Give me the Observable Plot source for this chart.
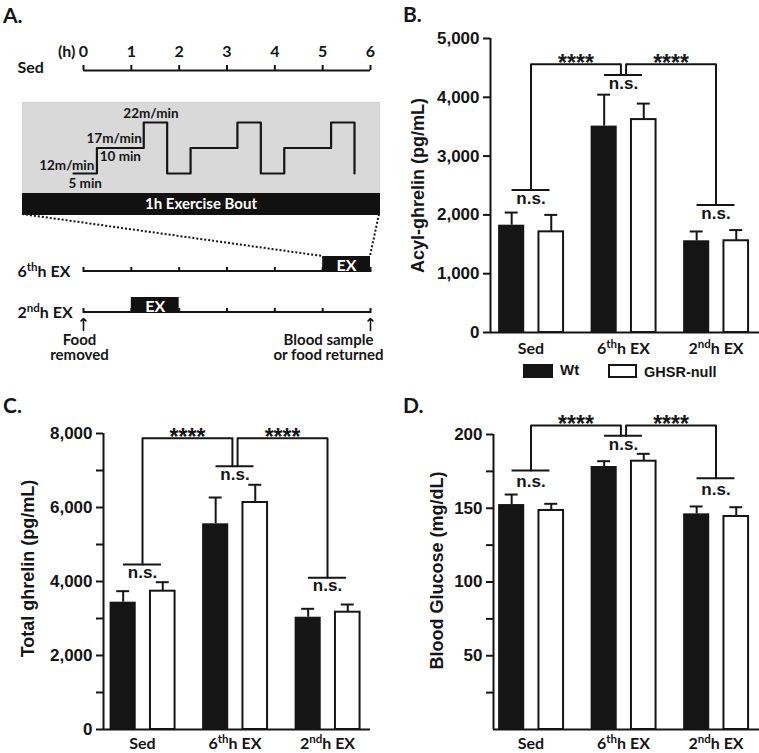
<!DOCTYPE html>
<html>
<head>
<meta charset="utf-8">
<script src="https://cdn.jsdelivr.net/npm/d3@7"></script>
<script src="https://cdn.jsdelivr.net/npm/@observablehq/plot@0.6"></script>
<style>
  html, body { margin: 0; padding: 0; background: #fff; }
  #fig { position: relative; width: 759px; height: 753px; overflow: hidden; background: #fff; color: #151515; }
  #fig svg { position: absolute; overflow: visible; }
  .plab { position: absolute; font-family: Lato, "Open Sans", sans-serif; font-weight: 700; font-size: 21px; line-height: 21px; }
  .leg { position: absolute; font-family: "Liberation Sans", Arial, sans-serif; font-weight: 700; }
</style>
</head>
<body>
<div id="fig"></div>
<script>
// ---------------- data ----------------
const hours = [0, 1, 2, 3, 4, 5, 6];
const boutMinutes = [0, 5, 15, 20, 25, 35, 40, 45, 55, 60];
const boutSpeed = [12, 17, 22, 12, 17, 22, 12, 17, 22, 12];
const speedLabels = ["12m/min", "17m/min", "22m/min"];
const stageLabels = ["5 min", "10 min"];
const protocolRows = ["6thh EX", "2ndh EX"];
const exerciseStart = [5, 1];
const endLabels = ["Food\nremoved", "Blood sample\nor food returned"];

const groups = ["Sed", "6thh EX", "2ndh EX"];
const genotypes = ["Wt", "GHSR-null"];

const acylWt = [1825, 3510, 1560];
const acylWtSem = [215, 535, 158];
const acylNull = [1712, 3621, 1560];
const acylNullSem = [288, 272, 182];
const acylNs = [2424, 4381, 2170];
const acylTop = 4564;
const acylTicks = [0, 1000, 2000, 3000, 4000, 5000];

const totalWt = [3441, 5559, 3035];
const totalWtSem = [297, 711, 227];
const totalNull = [3738, 6135, 3170];
const totalNullSem = [243, 479, 208];
const totalNs = [4459, 7116, 4100];
const totalTop = 7870;
const totalTicks = [0, 2000, 4000, 6000, 8000];
const totalMinor = [1000, 3000, 5000, 7000];

const glucWt = [152.5, 178.3, 146.2];
const glucWtSem = [6.8, 3.6, 5.0];
const glucNull = [148.5, 181.9, 144.4];
const glucNullSem = [4.5, 5.0, 6.3];
const glucNs = [175.6, 199.1, 170.4];
const glucTop = 206.1;
const glucTicks = [50, 100, 150, 200];
const glucMinor = [25, 75, 125, 175];

// ---------------- helpers ----------------
const NS = "http://www.w3.org/2000/svg";
const ink = "#151515";
const fig = document.getElementById("fig");
const lato = {fontFamily: "Lato, 'Open Sans', sans-serif", fontWeight: 700};
const arial = {fontFamily: "'Liberation Sans', Arial, sans-serif", fontWeight: 700};

function fixText(svg) {
  svg.querySelectorAll("text, tspan").forEach(t => {
    if (t.querySelector("tspan")) return;
    const m = t.textContent.match(/^(\d)(th|nd)(h EX)$/);
    if (!m) return;
    t.textContent = "";
    t.appendChild(document.createTextNode(m[1]));
    const sup = document.createElementNS(NS, "tspan");
    sup.setAttribute("baseline-shift", "super");
    sup.setAttribute("font-size", "72%");
    sup.textContent = m[2];
    t.appendChild(sup);
    const rest = document.createElementNS(NS, "tspan");
    rest.textContent = m[3];
    t.appendChild(rest);
  });
}
function place(svg, left, top) {
  svg.style.left = left + "px";
  svg.style.top = top + "px";
  fixText(svg);
  fig.appendChild(svg);
  return svg;
}
function label(text, left, top) {
  const d = document.createElement("div");
  d.className = "plab";
  d.textContent = text;
  d.style.left = left + "px";
  d.style.top = top + "px";
  fig.appendChild(d);
}

// ---------------- Panel A ----------------
// A1: Sed timeline
place(Plot.plot({
  width: 390, height: 90, marginLeft: 83, marginRight: 20, marginTop: 65, marginBottom: 20,
  x: {domain: [hours[0], hours[hours.length - 1]]},
  y: {domain: [0, 1], axis: null},
  style: {background: "transparent", color: ink},
  marks: [
    Plot.axisX(hours, {anchor: "top", tickSize: 0, tickPadding: 9, label: null, fontSize: 16, ...lato}),
    Plot.tickX(hours, {x: d => d, strokeWidth: 2, stroke: ink}),
    Plot.ruleY([0], {x1: hours[0], x2: hours[hours.length - 1], strokeWidth: 2, stroke: ink}),
    Plot.text(["(h)"], {x: hours[0], y: 1, textAnchor: "end", lineAnchor: "bottom", dx: -8, dy: -9, fontSize: 16, ...lato}),
    Plot.text(["Sed"], {frameAnchor: "bottom-left", textAnchor: "start", lineAnchor: "middle", dx: -66, dy: -2.5, fontSize: 16, ...lato})
  ]
}), 0, 0);

// A2: exercise bout detail
const bout = boutMinutes.map((m, i) => ({min: m, speed: boutSpeed[i]}));
const stages = speedLabels.map((s, i) => ({label: s, start: boutMinutes[i], end: boutMinutes[i + 1], speed: boutSpeed[i]}));
place(Plot.plot({
  width: 357, height: 91, margin: 0,
  x: {domain: [boutMinutes[0], boutMinutes[boutMinutes.length - 1]], range: [51, 332], axis: null},
  y: {domain: [d3.min(boutSpeed), d3.max(boutSpeed)], range: [71, 20], axis: null},
  style: {background: "transparent", color: ink},
  marks: [
    Plot.frame({fill: "#d9d9d9", stroke: "#cfcfcf"}),
    Plot.line(bout, {x: "min", y: "speed", curve: "step-after", stroke: ink, strokeWidth: 2.2}),
    Plot.text([stages[0]], {x: "end", y: "speed", text: "label", textAnchor: "end", dx: -2.5, dy: -8, fontSize: 13.5, ...lato}),
    Plot.text([stages[1]], {x: "end", y: "speed", text: "label", textAnchor: "end", dx: -2, dy: -9.5, fontSize: 13.5, ...lato}),
    Plot.text([stages[2]], {x: d => (d.start + d.end) / 2, y: "speed", text: "label", dx: -4.5, dy: -9, fontSize: 13.5, ...lato}),
    Plot.text([stages[0]], {x: d => (d.start + d.end) / 2, y: "speed", text: () => stageLabels[0], dy: 10, fontSize: 13.5, ...lato}),
    Plot.text([stages[1]], {x: d => (d.start + d.end) / 2, y: "speed", text: () => stageLabels[1], dy: 8.5, fontSize: 13.5, ...lato})
  ]
}), 22, 102);

// A2b: black bar
place(Plot.plot({
  width: 357, height: 21, margin: 0,
  style: {background: "transparent"},
  marks: [
    Plot.frame({fill: "#111", stroke: "#111"}),
    Plot.text(["1h Exercise Bout"], {frameAnchor: "middle", fill: "white", fontSize: 15, ...lato})
  ]
}), 22, 193);

// A3: 6th h / 2nd h timelines
const boxLeft = 22, boxRight = 379;
const exercise = protocolRows.map((r, i) => ({row: r, start: exerciseStart[i]}));
const tickCells = protocolRows.flatMap(r => hours.map(h => ({row: r, h})));
function dottedZoom(index, scales) {
  const g = document.createElementNS(NS, "g");
  const yb = scales.y(protocolRows[0]);
  const ends = [[boxLeft, exerciseStart[0]], [boxRight, exerciseStart[0] + 1]];
  for (const [px, h] of ends) {
    const l = document.createElementNS(NS, "line");
    l.setAttribute("x1", px); l.setAttribute("y1", 0);
    l.setAttribute("x2", scales.x(h)); l.setAttribute("y2", yb);
    l.setAttribute("stroke", ink); l.setAttribute("stroke-width", 2);
    l.setAttribute("stroke-dasharray", "2,2");
    g.appendChild(l);
  }
  return g;
}
place(Plot.plot({
  width: 390, height: 150, marginLeft: 83, marginRight: 20, marginTop: 0, marginBottom: 0,
  x: {domain: [hours[0], hours[hours.length - 1]], axis: null},
  y: {type: "band", domain: protocolRows, range: [42, 99], paddingInner: 0.61, paddingOuter: 0, axis: null},
  style: {background: "transparent", color: ink},
  marks: [
    Plot.barX(protocolRows, {x1: hours[0], x2: hours[hours.length - 1], y: d => d, insetTop: 14, fill: ink}),
    Plot.tickX(tickCells, {x: "h", y: "row", insetTop: 11, strokeWidth: 2, stroke: ink}),
    Plot.barX(exercise, {x1: "start", x2: d => d.start + 1, y: "row", fill: "#111"}),
    Plot.text(exercise, {x: d => d.start + 0.5, y: "row", text: () => "EX", fill: "white", fontSize: 16, dy: 1, ...lato}),
    Plot.text(protocolRows, {y: d => d, frameAnchor: "left", textAnchor: "start", dx: -66, dy: 7, fontSize: 16, ...lato}),
    Plot.vector([hours[0], hours[hours.length - 1]], {x: d => d, y: () => protocolRows[1], length: 12, anchor: "start", dy: 25, stroke: ink, strokeWidth: 1.6}),
    Plot.text([endLabels[0]], {x: hours[0], y: () => protocolRows[1], dx: -4, dy: 42, lineHeight: 1, fontSize: 15, ...lato}),
    Plot.text([endLabels[1]], {x: hours[hours.length - 1], y: () => protocolRows[1], dx: -42, dy: 42, lineHeight: 1, fontSize: 15, ...lato}),
    dottedZoom
  ]
}), 0, 214);

// ---------------- Bar panels ----------------
function barPanel(o) {
  const rows = groups.map((g, i) => ({i, wt: o.wt[i], wtSem: o.wtSem[i], nul: o.nul[i], nulSem: o.nulSem[i], ns: o.ns[i]}));
  const x0 = (o.ml - o.c0) / o.step, x1 = (o.width - o.mr - o.c0) / o.step;
  const W = [-0.35, -0.068], N = [0.086, 0.352];
  const wc = (W[0] + W[1]) / 2, nc = (N[0] + N[1]) / 2;
  const cap = 0.07, nsHalf = 0.205, leg = 0.028;
  const left = [{x: 0, y: o.ns[0]}, {x: 0, y: o.top}, {x: 1 - leg, y: o.top}, {x: 1 - leg, y: o.ns[1]}];
  const right = [{x: 1 + leg, y: o.ns[1]}, {x: 1 + leg, y: o.top}, {x: 2, y: o.top}, {x: 2, y: o.ns[2]}];
  const stars = [{x: 0.5 - leg / 2, y: o.top}, {x: 1.5 + leg / 2, y: o.top}];
  const marks = [
    Plot.rectY(rows, {x1: d => d.i + W[0], x2: d => d.i + W[1], y1: 0, y2: "wt", fill: ink}),
    Plot.ruleX(rows, {x: d => d.i + wc, y1: "wt", y2: d => d.wt + d.wtSem, stroke: ink, strokeWidth: 2}),
    Plot.ruleY(rows, {y: d => d.wt + d.wtSem, x1: d => d.i + wc - cap, x2: d => d.i + wc + cap, stroke: ink, strokeWidth: 2}),
    Plot.rectY(rows, {x1: d => d.i + N[0], x2: d => d.i + N[1], y1: 0, y2: "nul", fill: "white", stroke: ink, strokeWidth: 2}),
    Plot.ruleX(rows, {x: d => d.i + nc, y1: "nul", y2: d => d.nul + d.nulSem, stroke: ink, strokeWidth: 2}),
    Plot.ruleY(rows, {y: d => d.nul + d.nulSem, x1: d => d.i + nc - cap, x2: d => d.i + nc + cap, stroke: ink, strokeWidth: 2}),
    // significance annotations
    Plot.ruleY(rows, {y: "ns", x1: d => d.i - nsHalf, x2: d => d.i + nsHalf, stroke: ink, strokeWidth: 2}),
    Plot.line(left, {x: "x", y: "y", stroke: ink, strokeWidth: 2}),
    Plot.line(right, {x: "x", y: "y", stroke: ink, strokeWidth: 2}),
    Plot.text(rows.filter(d => d.i !== 1), {x: "i", y: "ns", text: () => "n.s.", dy: o.nsDy, fontSize: 17, ...arial}),
    Plot.text(rows.filter(d => d.i === 1), {x: "i", y: "ns", text: () => "n.s.", dy: o.nsDyC, fontSize: 17, ...arial}),
    Plot.text(stars, {x: "x", y: "y", text: () => "****", lineAnchor: "bottom", dy: 6.5, fontSize: 23, ...arial}),
    // axes
    Plot.ruleX([x0], {y1: o.domain[0], y2: o.domain[1], stroke: ink, strokeWidth: 2}),
    Plot.ruleY([o.domain[0]], {stroke: ink, strokeWidth: 2}),
    Plot.axisY(o.ticks, {tickSize: 7, tickPadding: 4, tickFormat: d3.format(","), label: null, stroke: ink, strokeWidth: 2, fontSize: 17, ...arial}),
    Plot.axisX([0, 1, 2], {tickSize: 0, tickPadding: o.xPad, tickFormat: i => groups[i], label: null, fontSize: 16, ...lato}),
    Plot.text([o.label], {frameAnchor: "left", textAnchor: "middle", lineAnchor: "middle", rotate: -90, dx: o.titleDx, dy: o.titleDy, fontSize: 18, ...arial})
  ];
  if (o.minor) marks.push(Plot.axisY(o.minor, {tickSize: 7, tickFormat: () => "", label: null, stroke: ink, strokeWidth: 2}));
  return Plot.plot({
    width: o.width, height: o.height,
    marginLeft: o.ml, marginRight: o.mr, marginTop: o.mt, marginBottom: o.mb,
    x: {domain: [x0, x1]},
    y: {domain: o.domain},
    style: {background: "transparent", color: ink},
    marks
  });
}

place(barPanel({
  wt: acylWt, wtSem: acylWtSem, nul: acylNull, nulSem: acylNullSem, ns: acylNs, top: acylTop,
  domain: [0, 5000], ticks: acylTicks, label: "Acyl-ghrelin (pg/mL)",
  width: 369, height: 360, ml: 100, mr: 0, mt: 38, mb: 28, c0: 140.5, step: 92.5,
  xPad: 10, nsDy: 8.5, nsDyC: 9, titleDx: -72, titleDy: 0
}), 390, 0);

place(barPanel({
  wt: totalWt, wtSem: totalWtSem, nul: totalNull, nulSem: totalNullSem, ns: totalNs, top: totalTop,
  domain: [0, 8000], ticks: totalTicks, minor: totalMinor, label: "Total ghrelin (pg/mL)",
  width: 390, height: 383, ml: 103, mr: 20, mt: 63, mb: 24, c0: 142, step: 92.5,
  xPad: 8, nsDy: 8, nsDyC: 8, titleDx: -75, titleDy: -13
}), 0, 370);

place(barPanel({
  wt: glucWt, wtSem: glucWtSem, nul: glucNull, nulSem: glucNullSem, ns: glucNs, top: glucTop,
  domain: [0, 200], ticks: glucTicks, minor: glucMinor, label: "Blood Glucose (mg/dL)",
  width: 369, height: 383, ml: 103, mr: 0, mt: 64, mb: 24, c0: 140.5, step: 92.5,
  xPad: 8, nsDy: 11, nsDyC: 9, titleDx: -56, titleDy: -11.5
}), 390, 370);

// ---------------- legend (panel B) ----------------
const legendSpec = [
  {name: genotypes[0], box: 523, boxW: 30, text: 560, size: 15, fill: ink, border: "none", ty: 362},
  {name: genotypes[1], box: 608, boxW: 29, text: 644, size: 14.5, fill: "#fff", border: "2px solid " + ink, ty: 365}
];
legendSpec.forEach(s => {
  const b = document.createElement("div");
  b.style.cssText = `position:absolute;left:${s.box}px;top:364px;width:${s.boxW}px;height:14px;box-sizing:border-box;background:${s.fill};border:${s.border};`;
  fig.appendChild(b);
  const t = document.createElement("div");
  t.className = "leg";
  t.style.cssText += `left:${s.text}px;top:${s.ty}px;font-size:${s.size}px;line-height:${s.size}px;`;
  t.textContent = s.name;
  fig.appendChild(t);
});

// ---------------- panel letters ----------------
label("A.", 3, 4);
label("B.", 403, 3);
label("C.", 3, 394);
label("D.", 403, 394);
</script>
</body>
</html>
